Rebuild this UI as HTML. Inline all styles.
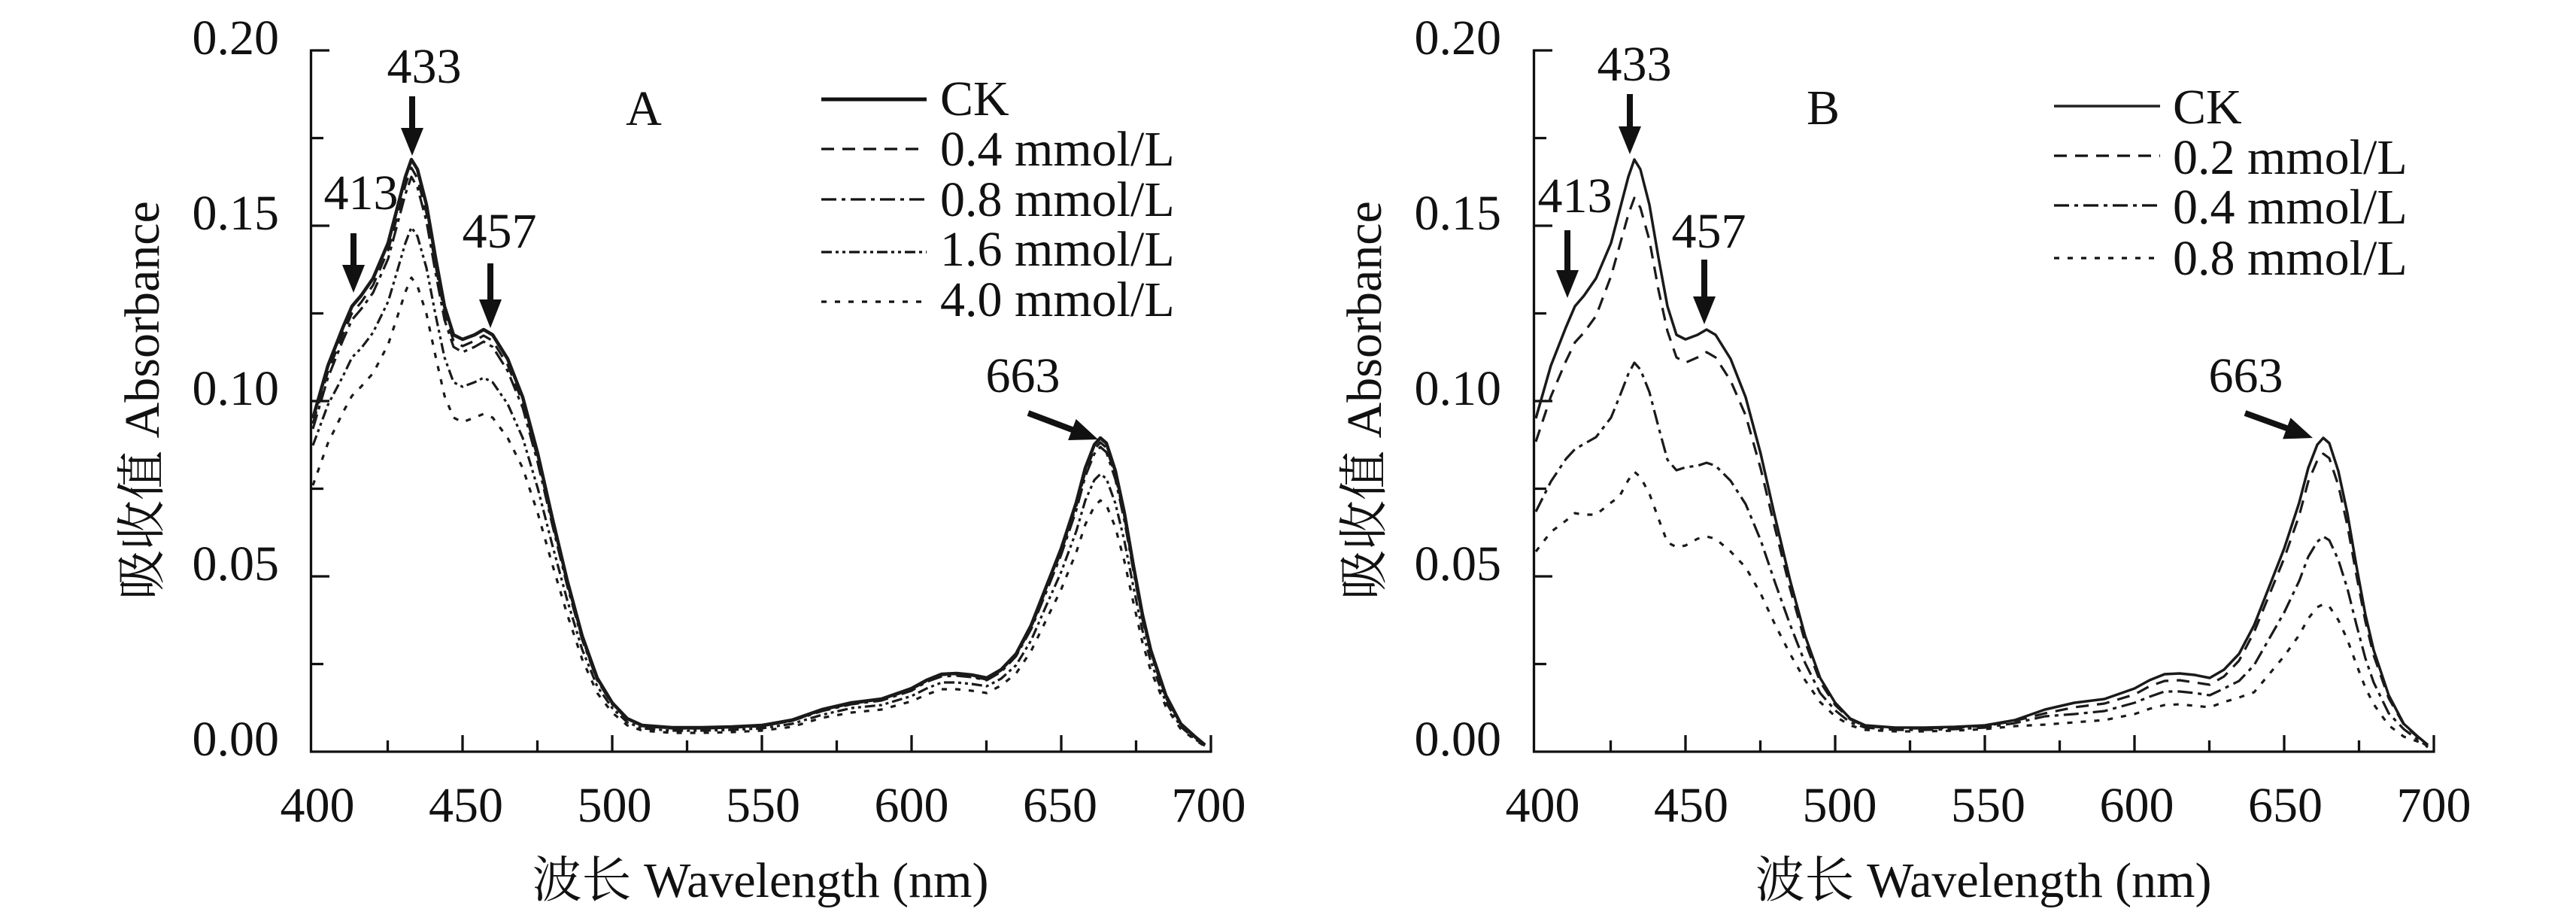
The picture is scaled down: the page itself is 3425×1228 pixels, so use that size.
<!DOCTYPE html>
<html><head><meta charset="utf-8"><style>
html,body{margin:0;padding:0;background:#fff;overflow:hidden}
svg{display:block}
text{font-family:"Liberation Serif","Noto Serif CJK SC",serif;font-size:66px;fill:#111}
.cjk{font-family:"Noto Serif CJK SC","Liberation Serif",serif;font-size:66px}
.ax{stroke:#111;stroke-width:3.3;fill:none}
.c{fill:none;stroke:#1a1a1a;stroke-linejoin:round;stroke-linecap:butt}
.ck{stroke-width:4.5}
.ckb{stroke-width:3.5}
.d1{stroke-width:3.2;stroke-dasharray:17 11}
.d2{stroke-width:3.2;stroke-dasharray:20 7 5 7}
.d3{stroke-width:3.2;stroke-dasharray:14 5 4 5 4 5}
.d4{stroke-width:3.2;stroke-dasharray:7 11}
.arr{stroke:#111;stroke-width:8;fill:none}
</style></head><body>
<svg width="3425" height="1228" viewBox="0 0 3425 1228" xmlns="http://www.w3.org/2000/svg">
<rect width="3425" height="1228" fill="#fff"/>

<!-- ========== Panel A axes ========== -->
<g id="axesA">
<path class="ax" d="M413.5,65.5 V1000.5 M412,999 H1611.6"/>
<path class="ax" d="M413.5,67 H438 M413.5,300 H438 M413.5,533 H438 M413.5,766 H438
M413.5,183.5 H430 M413.5,416.5 H430 M413.5,649.5 H430 M413.5,882.5 H430
M615,999 V977 M814,999 V977 M1013,999 V977 M1212,999 V977 M1411,999 V977 M1610,999 V977
M515.5,999 V984 M714.5,999 V984 M913.5,999 V984 M1112.5,999 V984 M1311.5,999 V984 M1510.5,999 V984"/>
</g>
<g transform="translate(1626,0)">
<path class="ax" d="M413.5,65.5 V1000.5 M412,999 H1611.6"/>
<path class="ax" d="M413.5,67 H438 M413.5,300 H438 M413.5,533 H438 M413.5,766 H438
M413.5,183.5 H430 M413.5,416.5 H430 M413.5,649.5 H430 M413.5,882.5 H430
M615,999 V977 M814,999 V977 M1013,999 V977 M1212,999 V977 M1411,999 V977 M1610,999 V977
M515.5,999 V984 M714.5,999 V984 M913.5,999 V984 M1112.5,999 V984 M1311.5,999 V984 M1510.5,999 V984"/>
</g>

<!-- ========== Panel A curves ========== -->
<polyline class="c d4" points="416,645 436,589 456,548 468,526 480,514 496,496 516,458 527,425 539,388 547,369 555,380 567,417 579,473 591,526 603,555 615,561 631,555 643,550 655,555 675,582 695,622 715,682 734,749 754,816 774,876 794,921 814,947 834,964 854,971 894,974 933,974 973,973 1013,971 1053,966 1093,954 1132,947 1172,943 1212,932 1232,923 1252,916 1272,916 1292,918 1312,921 1331,911 1351,895 1371,865 1391,824 1411,783 1431,734 1443,697 1455,673 1463,665 1471,671 1483,701 1495,746 1507,801 1519,854 1530,891 1550,939 1570,969 1590,984 1602,992"/>
<polyline class="c d3" points="416,592 436,538 456,500 468,475 480,463 496,442 516,401 527,364 539,323 547,302 555,314 567,356 579,418 591,475 603,508 615,514 631,508 643,502 655,508 675,537 695,582 715,649 734,723 754,797 774,863 794,912 814,941 834,960 854,968 894,971 933,971 973,970 1013,968 1053,962 1093,950 1132,941 1172,937 1212,925 1232,915 1252,907 1272,907 1292,909 1312,912 1331,902 1351,884 1371,851 1391,805 1411,760 1431,706 1443,665 1455,638 1463,630 1471,636 1483,669 1495,719 1507,780 1519,838 1530,879 1550,933 1570,966 1590,983 1602,991"/>
<polyline class="c d2" points="416,570 436,502 456,452 468,425 480,411 496,389 516,344 527,303 539,258 547,235 555,249 567,294 579,362 591,425 603,461 615,468 631,461 643,454 655,461 675,493 695,542 715,615 734,696 754,778 774,850 794,904 814,936 834,956 854,965 894,968 933,968 973,967 1013,965 1053,958 1093,945 1132,936 1172,931 1212,918 1232,906 1252,899 1272,898 1292,900 1312,904 1331,893 1351,872 1371,836 1391,787 1411,737 1431,678 1443,633 1455,603 1463,594 1471,601 1483,637 1495,692 1507,759 1519,823 1530,868 1550,927 1570,962 1590,981 1602,990"/>
<polyline class="c d1" points="416,563 436,494 456,444 468,416 480,402 496,379 516,333 527,292 539,246 547,223 555,237 567,283 579,352 591,416 603,453 615,460 631,453 643,446 655,453 675,485 695,535 715,609 734,692 754,774 774,848 794,903 814,935 834,955 854,965 894,968 933,968 973,967 1013,965 1053,958 1093,944 1132,935 1172,930 1212,916 1232,905 1252,897 1272,896 1292,899 1312,903 1331,891 1351,871 1371,834 1391,783 1411,733 1431,673 1443,627 1455,597 1463,588 1471,595 1483,632 1495,687 1507,756 1519,820 1530,866 1550,926 1570,962 1590,981 1602,990"/>
<polyline class="c ck" points="416,556 436,486 456,435 468,407 480,393 496,370 516,323 527,281 539,235 547,212 555,225 567,272 579,342 591,407 603,445 615,451 631,445 643,438 655,445 675,477 695,528 715,603 734,687 754,771 774,845 794,901 814,934 834,955 854,964 894,967 933,967 973,966 1013,964 1053,957 1093,943 1132,934 1172,929 1212,915 1232,904 1252,896 1272,895 1292,897 1312,901 1331,890 1351,869 1371,831 1391,780 1411,729 1431,668 1443,622 1455,591 1463,582 1471,589 1483,626 1495,682 1507,752 1519,817 1530,864 1550,924 1570,962 1590,980 1602,990"/>

<!-- ========== Panel B curves ========== -->
<g transform="translate(1626,0)">
<polyline class="c d4" points="416,733 436,707 456,692 468,682 480,684 496,684 516,668 527,660 539,638 547,627 555,634 567,656 579,689 591,721 603,727 615,725 631,716 643,713 655,716 675,733 695,754 715,789 734,830 754,869 774,904 794,933 814,952 834,964 854,970 894,972 933,972 973,971 1013,969 1053,965 1093,963 1132,960 1172,957 1212,949 1232,942 1252,937 1272,936 1292,938 1312,940 1331,933 1351,927 1371,920 1391,896 1411,872 1431,844 1443,822 1455,807 1463,803 1471,806 1483,824 1495,850 1507,883 1519,914 1530,936 1550,964 1570,979 1590,986 1602,993"/>
<polyline class="c d2" points="416,680 436,640 456,610 468,597 480,590 496,581 516,555 527,528 539,497 547,482 555,491 567,521 579,567 591,611 603,625 615,621 631,619 643,615 655,619 675,639 695,670 715,718 734,774 754,830 774,881 794,921 814,944 834,960 854,967 894,970 933,970 973,969 1013,967 1053,961 1093,952 1132,949 1172,945 1212,934 1232,926 1252,919 1272,919 1292,921 1312,924 1331,915 1351,905 1371,884 1391,849 1411,814 1431,772 1443,740 1455,720 1463,713 1471,718 1483,744 1495,782 1507,830 1519,875 1530,907 1550,948 1570,969 1590,984 1602,992"/>
<polyline class="c d1" points="416,587 436,527 456,480 468,455 480,442 496,420 516,367 527,328 539,285 547,263 555,276 567,319 579,385 591,440 603,475 615,482 631,475 643,468 655,475 675,506 695,552 715,623 734,702 754,782 774,853 794,906 814,937 834,956 854,965 894,968 933,968 973,967 1013,965 1053,958 1093,948 1132,940 1172,935 1212,923 1232,912 1252,905 1272,904 1292,907 1312,910 1331,899 1351,878 1371,840 1391,791 1411,742 1431,685 1443,640 1455,612 1463,603 1471,609 1483,645 1495,698 1507,764 1519,826 1530,871 1550,928 1570,963 1590,981 1602,990"/>
<polyline class="c ckb" points="416,556 436,486 456,435 468,407 480,393 496,370 516,323 527,281 539,235 547,212 555,225 567,272 579,342 591,407 603,445 615,451 631,445 643,438 655,445 675,477 695,528 715,603 734,687 754,771 774,845 794,901 814,934 834,955 854,964 894,967 933,967 973,966 1013,964 1053,957 1093,943 1132,934 1172,929 1212,915 1232,904 1252,896 1272,895 1292,897 1312,901 1331,890 1351,869 1371,831 1391,780 1411,729 1431,668 1443,622 1455,591 1463,582 1471,589 1483,626 1495,682 1507,752 1519,817 1530,864 1550,924 1570,962 1590,980 1602,990"/>
</g>

<!-- ========== Arrows A ========== -->
<line class="arr" x1="548" y1="128" x2="548" y2="174"/>
<polygon points="533,170 563,170 548,207" fill="#111"/>
<line class="arr" x1="470" y1="310" x2="470" y2="356"/>
<polygon points="455,352 485,352 470,389" fill="#111"/>
<line class="arr" x1="652" y1="350" x2="652" y2="402"/>
<polygon points="637,398 667,398 652,436" fill="#111"/>
<line class="arr" x1="1367" y1="549" x2="1428" y2="572"/>
<polygon points="1430.7,557 1420.1,585 1460,584" fill="#111"/>

<!-- ========== Arrows B ========== -->
<line class="arr" x1="2167" y1="125" x2="2167" y2="172"/>
<polygon points="2152,168 2182,168 2167,205" fill="#111"/>
<line class="arr" x1="2084" y1="306" x2="2084" y2="363"/>
<polygon points="2069,359 2099,359 2084,396" fill="#111"/>
<line class="arr" x1="2266" y1="345" x2="2266" y2="398"/>
<polygon points="2251,394 2281,394 2266,431" fill="#111"/>
<line class="arr" x1="2985" y1="549" x2="3043" y2="570"/>
<polygon points="3045.5,555.2 3035.1,583.4 3075,582" fill="#111"/>

<!-- ========== Peak labels ========== -->
<text x="564" y="110" text-anchor="middle">433</text>
<text x="480" y="278" text-anchor="middle">413</text>
<text x="664" y="329" text-anchor="middle">457</text>
<text x="1360" y="521" text-anchor="middle">663</text>
<text x="856" y="166" text-anchor="middle">A</text>

<text x="2173" y="107" text-anchor="middle">433</text>
<text x="2094" y="282" text-anchor="middle">413</text>
<text x="2272" y="329" text-anchor="middle">457</text>
<text x="2986" y="521" text-anchor="middle">663</text>
<text x="2424" y="165" text-anchor="middle">B</text>

<!-- ========== Legend A ========== -->
<line x1="1092" y1="132" x2="1232" y2="132" stroke="#111" stroke-width="5"/>
<line x1="1092" y1="198" x2="1232" y2="198" stroke="#111" stroke-width="3.2" stroke-dasharray="17 11"/>
<line x1="1092" y1="265" x2="1232" y2="265" stroke="#111" stroke-width="3.2" stroke-dasharray="20 7 5 7"/>
<line x1="1092" y1="335" x2="1232" y2="335" stroke="#111" stroke-width="3.2" stroke-dasharray="14 5 4 5 4 5"/>
<line x1="1092" y1="401" x2="1232" y2="401" stroke="#111" stroke-width="3.2" stroke-dasharray="7 11"/>
<text x="1250" y="153">CK</text>
<text x="1250" y="220">0.4 mmol/L</text>
<text x="1250" y="287">0.8 mmol/L</text>
<text x="1250" y="353">1.6 mmol/L</text>
<text x="1250" y="420">4.0 mmol/L</text>

<!-- ========== Legend B ========== -->
<line x1="2731" y1="141" x2="2872" y2="141" stroke="#222" stroke-width="3.5"/>
<line x1="2731" y1="207" x2="2872" y2="207" stroke="#111" stroke-width="3.2" stroke-dasharray="17 11"/>
<line x1="2731" y1="273" x2="2872" y2="273" stroke="#111" stroke-width="3.2" stroke-dasharray="20 7 5 7"/>
<line x1="2731" y1="343" x2="2872" y2="343" stroke="#111" stroke-width="3.2" stroke-dasharray="7 11"/>
<text x="2889" y="164">CK</text>
<text x="2889" y="231">0.2 mmol/L</text>
<text x="2889" y="297">0.4 mmol/L</text>
<text x="2889" y="365">0.8 mmol/L</text>

<!-- ========== Tick labels A ========== -->
<g text-anchor="end">
<text x="371" y="72">0.20</text>
<text x="371" y="305">0.15</text>
<text x="371" y="538">0.10</text>
<text x="371" y="771">0.05</text>
<text x="371" y="1004">0.00</text>
</g>
<g text-anchor="middle">
<text x="422" y="1092">400</text>
<text x="619.5" y="1092">450</text>
<text x="817" y="1092">500</text>
<text x="1014.5" y="1092">550</text>
<text x="1212" y="1092">600</text>
<text x="1409.5" y="1092">650</text>
<text x="1607" y="1092">700</text>
</g>

<!-- ========== Tick labels B ========== -->
<g text-anchor="end">
<text x="1996" y="72">0.20</text>
<text x="1996" y="305">0.15</text>
<text x="1996" y="538">0.10</text>
<text x="1996" y="771">0.05</text>
<text x="1996" y="1004">0.00</text>
</g>
<g text-anchor="middle">
<text x="2051" y="1092">400</text>
<text x="2248.5" y="1092">450</text>
<text x="2446" y="1092">500</text>
<text x="2643.5" y="1092">550</text>
<text x="2841" y="1092">600</text>
<text x="3038.5" y="1092">650</text>
<text x="3236" y="1092">700</text>
</g>

<!-- ========== Axis titles ========== -->
<text transform="translate(211,532) rotate(-90)" text-anchor="middle"><tspan class="cjk">吸收值</tspan><tspan> Absorbance</tspan></text>
<text transform="translate(1836,532) rotate(-90)" text-anchor="middle"><tspan class="cjk">吸收值</tspan><tspan> Absorbance</tspan></text>

<text x="1011" y="1192" text-anchor="middle"><tspan class="cjk">波长</tspan><tspan> Wavelength (nm)</tspan></text>
<text x="2637" y="1192" text-anchor="middle"><tspan class="cjk">波长</tspan><tspan> Wavelength (nm)</tspan></text>
</svg>
</body></html>
